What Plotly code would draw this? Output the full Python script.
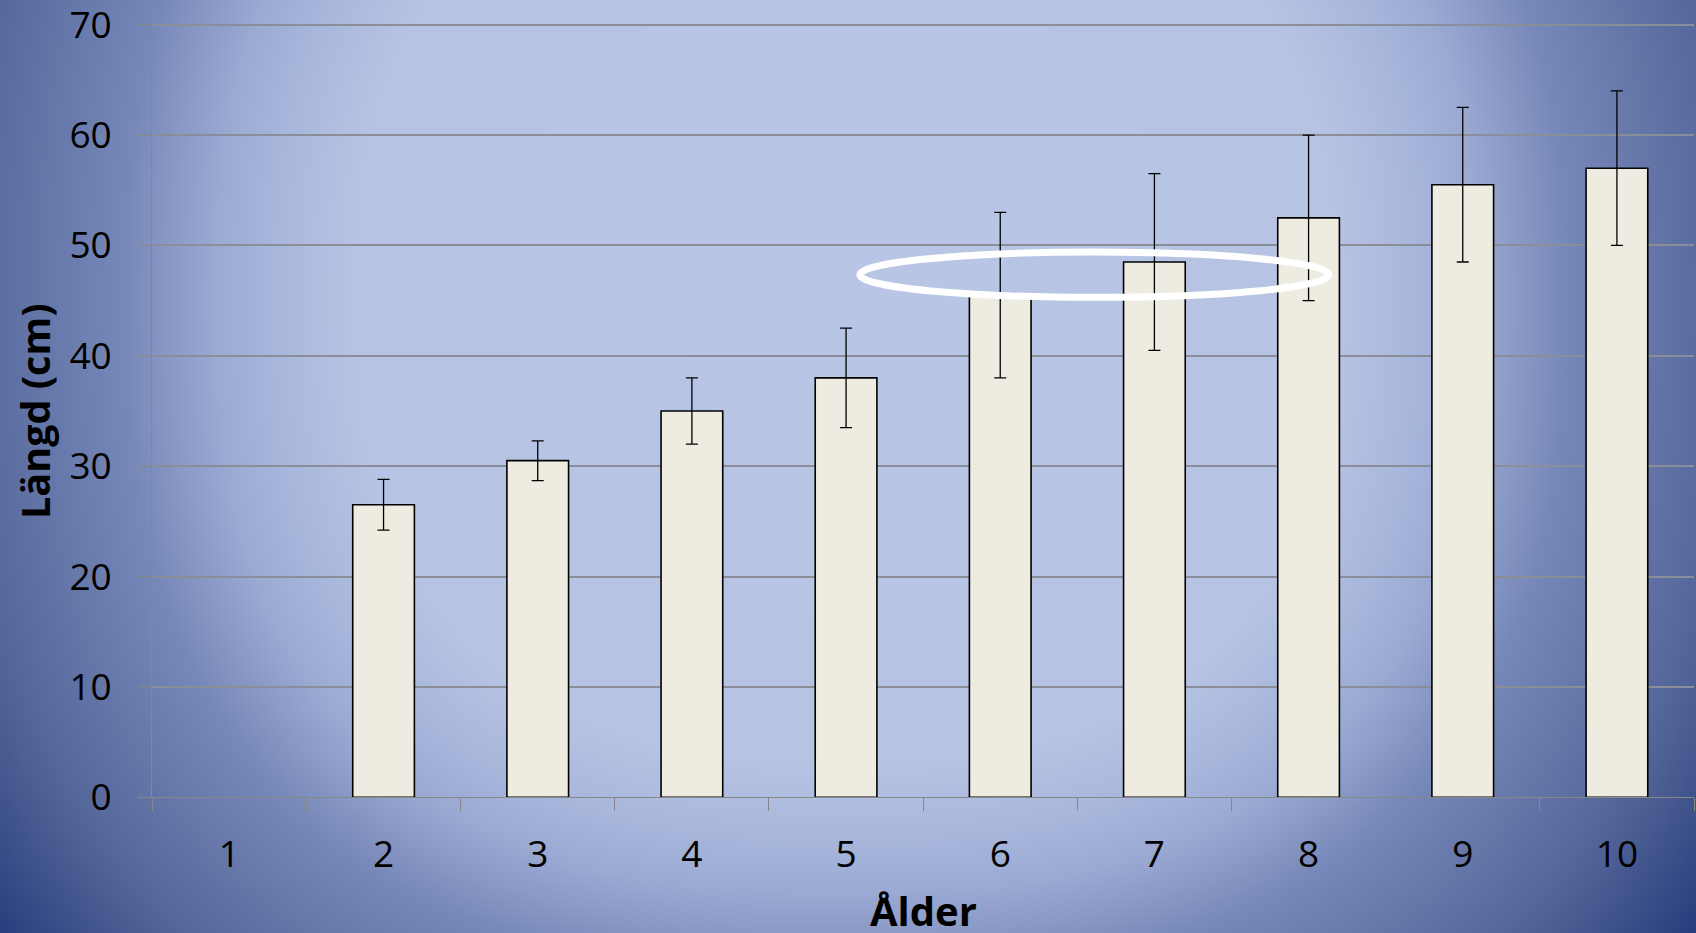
import base64
import struct
import zlib
import numpy as np
import plotly.graph_objects as go

# ---- data ----
ages = [1, 2, 3, 4, 5, 6, 7, 8, 9, 10]
mean_length = [None, 26.5, 30.5, 35.0, 38.0, 45.5, 48.5, 52.5, 55.5, 57.0]
length_error = [None, 2.3, 1.8, 3.0, 4.5, 7.5, 8.0, 7.5, 7.0, 7.0]
y_ticks = [0, 10, 20, 30, 40, 50, 60, 70]
x_title = "Ålder"
y_title = "Längd (cm)"

W, H = 1696, 933
FONT = "Open Sans"


# ---- background gradient (rendered to a small PNG, stretched) ----
def make_background_png(w, h, scale):
    xs = (np.arange(w) + 0.5) * scale
    ys = (np.arange(h) + 0.5) * scale
    X, Y = np.meshgrid(xs, ys)
    cx, cy, a, b, p = 845.0, 300.0, 900.0, 850.0, 2.5
    t = (np.abs((X - cx) / a) ** p + np.abs((Y - cy) / b) ** p) ** (1.0 / p)
    stops = [(0.00, "#b9c6e6"), (0.55, "#b6c3e3"), (0.64, "#a8b6dc"),
             (0.70, "#9aaad3"), (0.75, "#8a9ac6"), (0.80, "#7789b9"),
             (0.95, "#5b6da0"), (1.00, "#4f6296"), (1.12, "#2a3f7e"),
             (1.30, "#233777")]
    pos = [s[0] for s in stops]
    img = np.zeros((h, w, 3), dtype=np.uint8)
    for c in range(3):
        vals = [int(s[1][1 + 2 * c:3 + 2 * c], 16) for s in stops]
        img[:, :, c] = np.clip(np.interp(t, pos, vals), 0, 255).astype(np.uint8)
    raw = b"".join(b"\x00" + img[r].tobytes() for r in range(h))

    def chunk(tag, data):
        return (struct.pack(">I", len(data)) + tag + data
                + struct.pack(">I", zlib.crc32(tag + data) & 0xFFFFFFFF))

    ihdr = struct.pack(">IIBBBBB", w, h, 8, 2, 0, 0, 0)
    png = (b"\x89PNG\r\n\x1a\n" + chunk(b"IHDR", ihdr)
           + chunk(b"IDAT", zlib.compress(raw, 9)) + chunk(b"IEND", b""))
    return "data:image/png;base64," + base64.b64encode(png).decode()


bg_src = make_background_png(W // 2, (H + 1) // 2, 2.0)

fig = go.Figure()
fig.add_trace(go.Bar(
    x=ages, y=mean_length, width=0.4,
    marker=dict(color="#EEECE1", line=dict(color="black", width=1.6)),
    error_y=dict(type="data", array=length_error, visible=True,
                 color="black", thickness=1.3, width=6),
    showlegend=False,
))

grey = "#878787"
minor_ticks = [a - 0.5 for a in ages] + [ages[-1] + 0.5]

y_top_px = 24.7 - 0.15 * (772.6 / 70)  # tiny headroom so the 70 gridline is drawn

fig.update_layout(
    width=W, height=H,
    margin=dict(l=0, r=0, t=0, b=0, pad=0),
    paper_bgcolor="#7f90bf",
    plot_bgcolor="rgba(0,0,0,0)",
    font=dict(family=FONT, color="black"),
    images=[dict(source=bg_src, xref="paper", yref="paper", x=0, y=1,
                 sizex=1, sizey=1, xanchor="left", yanchor="top",
                 sizing="stretch", layer="below")],
    xaxis=dict(
        domain=[152.3 / W, 1694 / W],
        range=[0.5, 10.5],
        tickmode="array", tickvals=ages, ticktext=[str(a) for a in ages],
        ticks="", showgrid=False, zeroline=False,
        showline=True, linecolor=grey, linewidth=1.3,
        tickfont=dict(size=37, family=FONT, color="black"),
        ticklabelstandoff=24,
        ticklabeloverflow="allow",
        minor=dict(tickmode="array", tickvals=minor_ticks, ticks="outside",
                   ticklen=13, tickwidth=1.3, tickcolor=grey, showgrid=False),
        automargin=False,
    ),
    yaxis=dict(
        domain=[1 - 797.3 / H, 1 - y_top_px / H],
        range=[0, 70.15],
        tickmode="array", tickvals=y_ticks,
        ticks="outside", ticklen=13, tickwidth=1.3, tickcolor=grey,
        showgrid=True, gridcolor="#8b8d98", gridwidth=1.5,
        zeroline=False, showline=True, linecolor=grey, linewidth=1.3,
        tickfont=dict(size=37, family=FONT, color="black"),
        ticklabelstandoff=19,
        ticklabeloverflow="allow",
        automargin=False,
    ),
    annotations=[
        dict(text=f"<b>{x_title}</b>", xref="paper", yref="paper",
             x=923 / W, y=1 - 910 / H, xanchor="center", yanchor="middle",
             showarrow=False, font=dict(size=40, family=FONT, color="black")),
        dict(text=f"<b>{y_title}</b>", xref="paper", yref="paper",
             x=35 / W, y=1 - 411 / H, xanchor="center", yanchor="middle",
             textangle=-90, showarrow=False,
             font=dict(size=39.5, family=FONT, color="black")),
    ],
    shapes=[
        dict(type="circle", xref="x", yref="y",
             x0=5.09, x1=8.13, y0=45.3, y1=49.4,
             line=dict(color="white", width=7), fillcolor="rgba(0,0,0,0)",
             layer="above"),
    ],
)

fig.write_html(
    "out.html",
    config={"displayModeBar": False},
    post_script="document.body.style.margin='0px';document.body.style.overflow='hidden';",
)
